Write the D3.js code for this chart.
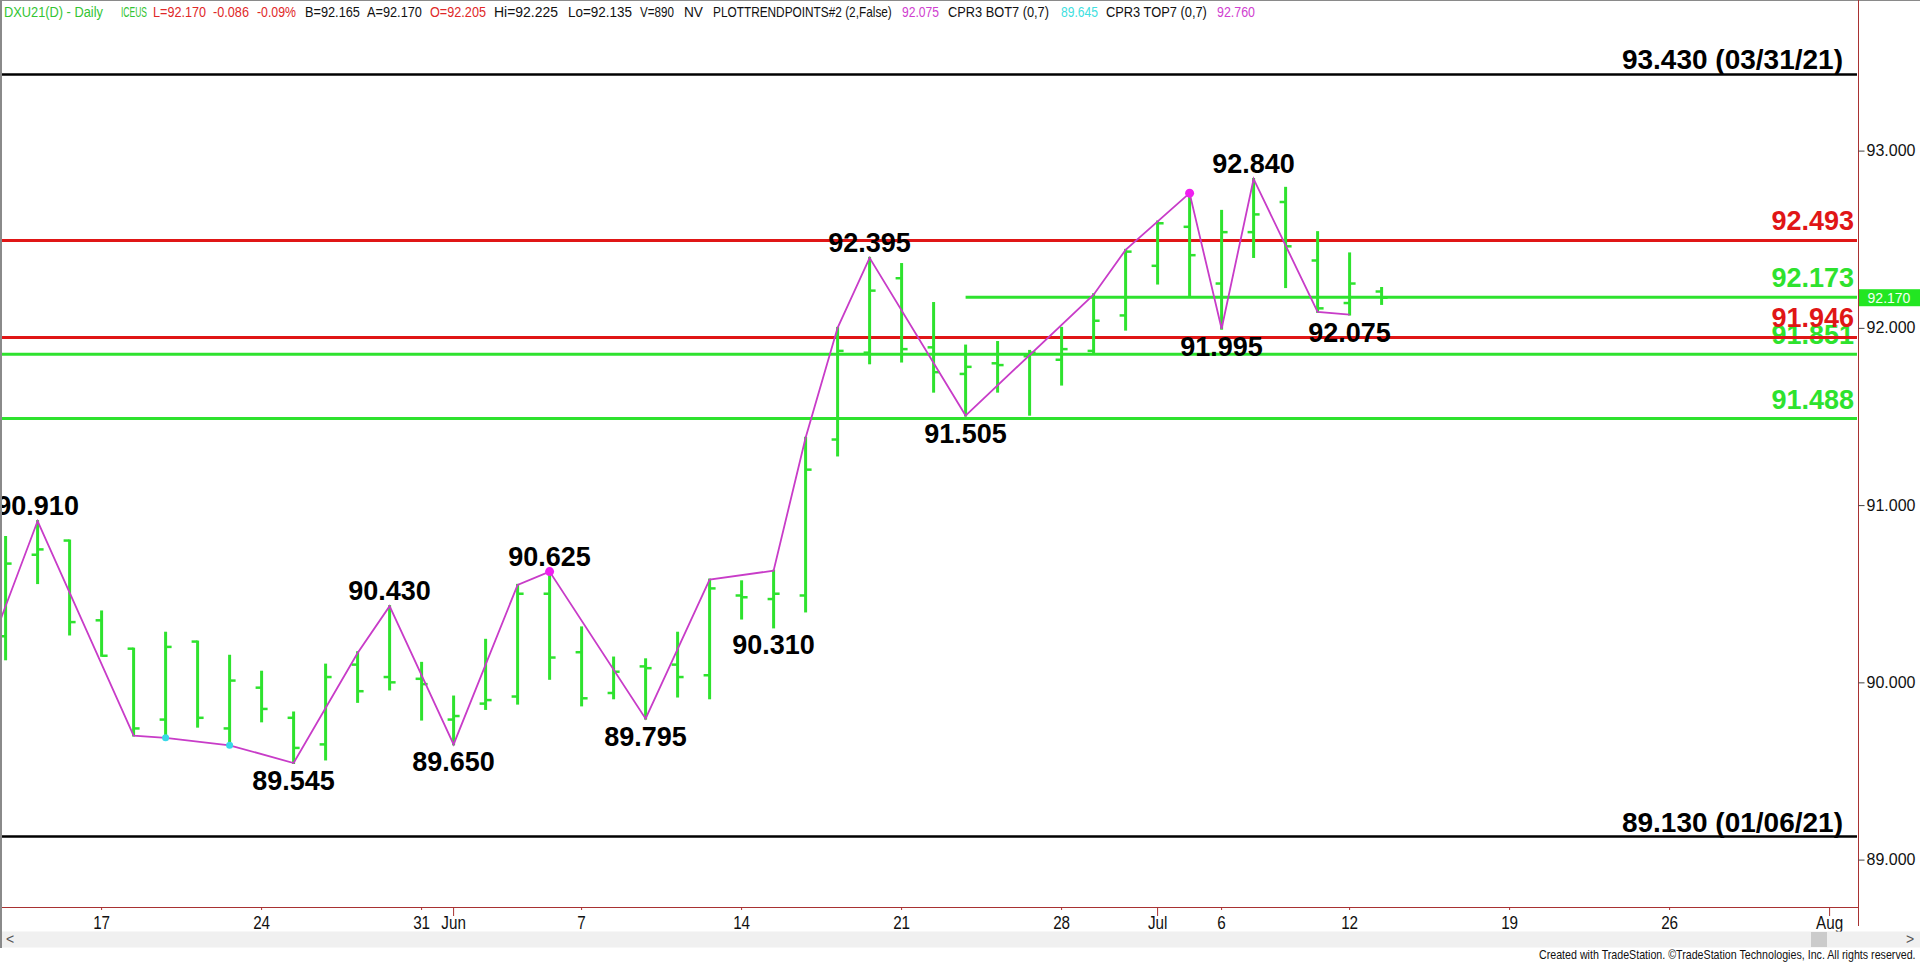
<!DOCTYPE html>
<html><head><meta charset="utf-8">
<script src="https://cdn.jsdelivr.net/npm/d3@7"></script>
<style>body{margin:0;background:#fff;overflow:hidden}svg{display:block}text{font-family:"Liberation Sans",Arial,sans-serif}</style>
</head><body><svg id="c" width="1920" height="963"></svg>
<script>
// ---------- DATA ----------
const barDates = ["2021-05-12","2021-05-13","2021-05-14","2021-05-17","2021-05-18","2021-05-19","2021-05-20","2021-05-21","2021-05-24","2021-05-25","2021-05-26","2021-05-27","2021-05-28","2021-05-31","2021-06-01","2021-06-02","2021-06-03","2021-06-04","2021-06-07","2021-06-08","2021-06-09","2021-06-10","2021-06-11","2021-06-14","2021-06-15","2021-06-16","2021-06-17","2021-06-18","2021-06-21","2021-06-22","2021-06-23","2021-06-24","2021-06-25","2021-06-28","2021-06-29","2021-06-30","2021-07-01","2021-07-02","2021-07-06","2021-07-07","2021-07-08","2021-07-09","2021-07-12","2021-07-13"];
const opens  = [90.26,90.72,90.80,90.35,90.19,89.79,90.23,89.74,89.97,89.80,89.65,90.10,90.03,90.02,89.79,89.88,89.92,90.50,90.17,89.94,90.09,90.10,90.04,90.49,90.47,90.49,91.37,91.86,92.28,91.89,91.74,91.80,91.84,91.82,91.87,92.07,92.35,92.57,92.25,92.54,92.71,92.38,92.14,92.205];
const highs  = [90.82,90.91,90.80,90.40,90.19,90.28,90.23,90.15,90.06,89.83,90.10,90.17,90.43,90.11,89.92,90.24,90.55,90.625,90.31,90.14,90.13,90.28,90.58,90.57,90.63,91.38,92.00,92.395,92.36,92.14,91.90,91.92,91.87,92.00,92.19,92.44,92.60,92.76,92.66,92.84,92.79,92.54,92.42,92.225];
const lows   = [90.13,90.56,90.27,90.15,89.70,89.69,89.75,89.64,89.78,89.545,89.565,89.89,89.96,89.79,89.65,89.85,89.88,90.02,89.87,89.91,89.795,89.92,89.91,90.36,90.31,90.40,91.28,91.80,91.81,91.64,91.505,91.64,91.51,91.68,91.86,91.99,92.25,92.18,91.995,92.40,92.23,92.09,92.075,92.135];
const closes = [90.67,90.75,90.34,90.15,89.74,90.20,89.80,90.01,89.85,89.63,90.03,89.95,90.00,89.99,89.81,89.90,90.50,90.14,89.91,90.06,90.08,90.03,90.53,90.48,90.50,91.20,91.87,92.21,91.88,91.75,91.78,91.79,91.86,91.88,92.04,92.43,92.59,92.41,92.54,92.64,92.46,92.11,92.25,92.17];

const zigDates  = ["2021-05-11","2021-05-13","2021-05-18","2021-05-19","2021-05-21","2021-05-25","2021-05-27","2021-05-28","2021-06-01","2021-06-03","2021-06-04","2021-06-09","2021-06-11","2021-06-15","2021-06-16","2021-06-17","2021-06-18","2021-06-23","2021-06-29","2021-06-30","2021-07-02","2021-07-06","2021-07-07","2021-07-09","2021-07-12"];
const zigValues = [89.95,90.91,89.70,89.687,89.645,89.545,90.166,90.43,89.65,90.55,90.625,89.795,90.58,90.63,91.38,92.00,92.395,91.505,92.187,92.44,92.76,91.995,92.84,92.09,92.075];

const cyanDotDates = ["2021-05-19","2021-05-21"], cyanDotValues = [89.687,89.645];
const magDotDates  = ["2021-06-04","2021-07-02"], magDotValues  = [90.625,92.76];

const pivotDates  = ["2021-05-13","2021-05-25","2021-05-28","2021-06-01","2021-06-04","2021-06-09","2021-06-15","2021-06-18","2021-06-23","2021-07-06","2021-07-07","2021-07-12"];
const pivotValues = [90.910,89.545,90.430,89.650,90.625,89.795,90.310,92.395,91.505,91.995,92.840,92.075];
const pivotKinds  = ["H","L","H","L","H","L","L","H","L","L","H","L"];

const levelValues = [93.430,92.493,92.173,91.851,91.946,91.488,89.130];
const levelLabels = ["93.430 (03/31/21)","92.493","92.173","91.851","91.946","91.488","89.130 (01/06/21)"];
const levelKinds  = ["black","red","green","green","red","green","black"];
const levelStart  = [null,null,"2021-06-23",null,null,null,null];

const priceTicks = [89,90,91,92,93];
const dateTickDates  = ["2021-05-17","2021-05-24","2021-05-31","2021-06-01","2021-06-07","2021-06-14","2021-06-21","2021-06-28","2021-07-01","2021-07-06","2021-07-12","2021-07-19","2021-07-26","2021-08-02"];
const dateTickLabels = ["17","24","31","Jun","7","14","21","28","Jul","6","12","19","26","Aug"];
const lastPrice = 92.170;
const holidays = ["2021-07-05"];

const headerParts = [
 ["DXU21(D) - Daily",4,99,"green"],["ICEUS",121,26,"green"],
 ["L=92.170",153,53,"red"],["-0.086",213,36,"red"],["-0.09%",257,39,"red"],
 ["B=92.165",305,55,"black"],["A=92.170",367,55,"black"],["O=92.205",430,56,"red"],
 ["Hi=92.225",494,64,"black"],["Lo=92.135",568,64,"black"],["V=890",640,34,"black"],["NV",684,19,"black"],
 ["PLOTTRENDPOINTS#2 (2,False)",713,179,"black"],["92.075",902,37,"mag"],
 ["CPR3 BOT7 (0,7)",948,101,"black"],["89.645",1061,37,"cyan"],
 ["CPR3 TOP7 (0,7)",1106,101,"black"],["92.760",1217,38,"mag"]
];

// ---------- STYLE ----------
const C = {green:"#2ee22e", red:"#e01616", black:"#000", mag:"#c83cc8", cyan:"#38d8e8", axis:"#a83232",
           hgreen:"#33c433", hred:"#e02828", hmag:"#d040d0", hcyan:"#40e0e0"};

// trading-day calendar
const days = [];
for (let d = new Date(Date.UTC(2021,4,11)); d <= new Date(Date.UTC(2021,7,6)); d.setUTCDate(d.getUTCDate()+1)) {
  const wd = d.getUTCDay(); const s = d.toISOString().slice(0,10);
  if (wd>0 && wd<6 && !holidays.includes(s)) days.push(s);
}
const di = s => days.indexOf(s);

const svg = d3.select("#c");
const plotL = 2, plotR = 1858, plotT = 22, plotB = 907;
const x = d3.scaleLinear().domain([di("2021-05-17"), di("2021-08-02")]).range([101.6, 1829.6]);
const y = d3.scaleLinear().domain([89, 93]).range([859.6, 150.6]);
const X = s => x(di(s));

svg.append("defs").append("clipPath").attr("id","plot").append("rect")
  .attr("x",plotL).attr("y",plotT).attr("width",plotR-plotL).attr("height",plotB-plotT);

// borders
svg.append("line").attr("x1",0).attr("x2",1920).attr("y1",0.5).attr("y2",0.5).attr("stroke","#8a8a8a");
svg.append("line").attr("x1",1).attr("x2",1).attr("y1",0).attr("y2",948).attr("stroke","#8a8a8a").attr("stroke-width",2);

// header (each part scaled horizontally to its measured width)
const hcol = {green:C.hgreen, red:C.hred, black:"#111", mag:C.hmag, cyan:C.hcyan};
const hg = svg.append("g");
headerParts.forEach(p=>{
  const t = hg.append("text").attr("font-size",15).attr("fill",hcol[p[3]]).text(p[0]);
  const w = t.node().getComputedTextLength();
  t.attr("transform",`translate(${p[1]},17) scale(${p[2]/w},1)`);
});

const plot = svg.append("g").attr("clip-path","url(#plot)");

// levels
const levels = levelValues.map((v,i)=>({v,label:levelLabels[i],kind:levelKinds[i],start:levelStart[i]}));
levels.forEach(L=>{
  const col = C[L.kind];
  const x1 = L.start ? X(L.start) : plotL;
  plot.append("line").attr("x1",x1).attr("x2",plotR-1).attr("y1",y(L.v)).attr("y2",y(L.v))
    .attr("stroke",col).attr("stroke-width",L.kind==="black"?2.5:3);
  const blk = L.kind==="black";
  plot.append("text").attr("x",blk?1843:1854).attr("y",y(L.v)-(blk?5:10))
    .attr("text-anchor","end").attr("font-weight","bold").attr("font-size",blk?28:27).attr("fill",col).text(L.label);
});

// OHLC bars
const bars = barDates.map((d,i)=>({d,o:opens[i],h:highs[i],l:lows[i],c:closes[i]}));
const bg = plot.append("g").attr("stroke",C.green);
bars.forEach(b=>{
  const cx = X(b.d);
  bg.append("line").attr("x1",cx).attr("x2",cx).attr("y1",y(b.h)-1).attr("y2",y(b.l)+1).attr("stroke-width",3);
  bg.append("line").attr("x1",cx-6).attr("x2",cx).attr("y1",y(b.o)).attr("y2",y(b.o)).attr("stroke-width",2.5);
  bg.append("line").attr("x1",cx).attr("x2",cx+6).attr("y1",y(b.c)).attr("y2",y(b.c)).attr("stroke-width",2.5);
});

// zigzag
const zig = zigDates.map((d,i)=>[X(d), y(zigValues[i])]);
plot.append("path").attr("d",d3.line()(zig)).attr("fill","none").attr("stroke",C.mag).attr("stroke-width",1.8);
plot.selectAll(".cd").data(cyanDotDates).join("circle").attr("cx",d=>X(d)).attr("cy",(d,i)=>y(cyanDotValues[i])).attr("r",3.5).attr("fill",C.cyan);
plot.selectAll(".md").data(magDotDates).join("circle").attr("cx",d=>X(d)).attr("cy",(d,i)=>y(magDotValues[i])).attr("r",4.5).attr("fill","#f020f0");

// pivot labels
plot.append("g").selectAll("text").data(pivotDates).join("text")
  .attr("x",d=>X(d)).attr("y",(d,i)=> pivotKinds[i]==="H" ? y(pivotValues[i])-6 : y(pivotValues[i])+27)
  .attr("text-anchor","middle").attr("font-weight","bold").attr("font-size",27).attr("fill","#000")
  .text((d,i)=>pivotValues[i].toFixed(3));

// right axis
svg.append("line").attr("x1",plotR+0.5).attr("x2",plotR+0.5).attr("y1",0).attr("y2",926).attr("stroke",C.axis);
const ra = svg.append("g").attr("transform",`translate(${plotR+0.5},0)`)
  .call(d3.axisRight(y).tickValues(priceTicks).tickFormat(d3.format(".3f")).tickSize(6).tickPadding(2));
ra.select(".domain").remove();
ra.selectAll(".tick line").attr("stroke","#444");
ra.selectAll(".tick text").attr("font-size",16).attr("fill","#111").attr("font-family","Liberation Sans, Arial, sans-serif");

// last price box
svg.append("rect").attr("x",plotR+1).attr("y",y(lastPrice)-8.5).attr("width",62).attr("height",17).attr("fill","#22e622");
svg.append("text").attr("x",plotR+31).attr("y",y(lastPrice)+5).attr("text-anchor","middle").attr("font-size",14).attr("fill","#f4fff4").text(lastPrice.toFixed(3));

// bottom axis
svg.append("line").attr("x1",plotL).attr("x2",plotR).attr("y1",plotB+0.5).attr("y2",plotB+0.5).attr("stroke",C.axis);
const tg = svg.append("g");
dateTickDates.forEach((d,i)=>{
  const tx = X(d); const month = isNaN(+dateTickLabels[i]);
  tg.append("line").attr("x1",tx).attr("x2",tx).attr("y1",plotB).attr("y2",plotB+(month?9:3)).attr("stroke",C.axis);
  tg.append("text").attr("transform",`translate(${tx},928.5) scale(0.87,1)`).attr("text-anchor","middle")
    .attr("font-size",17.5).attr("fill","#111").text(dateTickLabels[i]);
});

// scrollbar + footer
svg.append("rect").attr("x",2).attr("y",931.5).attr("width",1918).attr("height",16).attr("fill","#f0f0f0");
svg.append("text").attr("x",6).attr("y",944).attr("font-size",14).attr("fill","#555").text("<");
svg.append("text").attr("x",1906).attr("y",944).attr("font-size",14).attr("fill","#555").text(">");
svg.append("rect").attr("x",1811).attr("y",932).attr("width",16).attr("height",15).attr("fill","#cbcbcb");
const ft = svg.append("text").attr("font-size",12).attr("fill","#111")
  .text("Created with TradeStation. \u00A9TradeStation Technologies, Inc. All rights reserved.");
const fw = ft.node().getComputedTextLength();
ft.attr("transform",`translate(${1916-377},959) scale(${377/fw},1)`);
</script></body></html>
